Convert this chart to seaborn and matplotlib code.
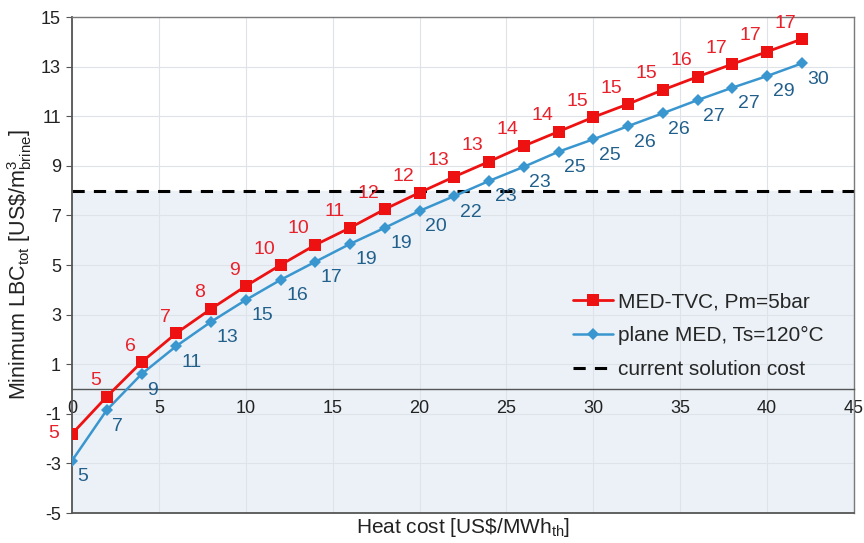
import matplotlib
matplotlib.use("Agg")
import matplotlib.pyplot as plt
import seaborn as sns
import numpy as np
import pandas as pd

# ---- data ----
heat_cost = [0, 2, 4, 6, 8, 10, 12, 14, 16, 18, 20, 22, 24, 26, 28, 30, 32, 34, 36, 38, 40, 42]
lbc_tvc = [-1.81, -0.31, 1.08, 2.25, 3.23, 4.15, 5.0, 5.81, 6.50, 7.25, 7.92, 8.56, 9.17,
           9.80, 10.38, 10.96, 11.49, 12.06, 12.59, 13.10, 13.60, 14.11]
lbc_med = [-2.89, -0.85, 0.60, 1.73, 2.71, 3.59, 4.40, 5.13, 5.85, 6.50, 7.18, 7.78, 8.39,
           8.96, 9.57, 10.07, 10.60, 11.12, 11.65, 12.15, 12.62, 13.13]
lab_tvc = [5, 5, 6, 7, 8, 9, 10, 10, 11, 12, 12, 13, 13, 14, 14, 15, 15, 15, 16, 17, 17, 17]
lab_med = [5, 7, 9, 11, 13, 15, 16, 17, 19, 19, 20, 22, 23, 23, 25, 25, 26, 26, 27, 27, 29, 30]
current_cost = 8
series_names = ["MED-TVC, Pm=5bar", "plane MED, Ts=120°C", "current solution cost"]
x_ticks = [0, 5, 10, 15, 20, 25, 30, 35, 40, 45]
y_ticks = [-5, -3, -1, 1, 3, 5, 7, 9, 11, 13, 15]

# ---- style ----
sns.set_style("white")
plt.rcParams["font.family"] = ["Liberation Sans", "DejaVu Sans"]
plt.rcParams["mathtext.fontset"] = "custom"
plt.rcParams["mathtext.rm"] = "Liberation Sans"
plt.rcParams["mathtext.it"] = "Liberation Sans:italic"
plt.rcParams["mathtext.bf"] = "Liberation Sans:bold"
plt.rcParams["axes.unicode_minus"] = False

RED = "#ee1111"
RED_TXT = "#e8212b"
BLUE = "#3a96cf"
BLUE_TXT = "#22608c"

fig = plt.figure(figsize=(8.64, 5.43), dpi=100)
ax = fig.add_axes([72 / 864, 30 / 543, 782 / 864, 496 / 543])

df = pd.DataFrame({"x": heat_cost, "tvc": lbc_tvc, "med": lbc_med})

ax.axhspan(-5, current_cost, color="#ebf1f6", zorder=0.1, lw=0)

sns.lineplot(data=df, x="x", y="tvc", ax=ax, color=RED, linewidth=2.0, marker="s",
             markersize=9, markeredgecolor=RED, markeredgewidth=0, label=series_names[0],
             zorder=4)
sns.lineplot(data=df, x="x", y="med", ax=ax, color=BLUE, linewidth=1.8, marker="D",
             markersize=6.5, markeredgecolor=BLUE, markeredgewidth=0, label=series_names[1],
             zorder=3)
ax.axhline(current_cost, color="black", linewidth=2.2, linestyle=(0, (4, 3)),
           label=series_names[2], zorder=2)

for i, (x, y, t) in enumerate(zip(heat_cost, lbc_tvc, lab_tvc)):
    if i == 0:
        off, ha = (-9, 0), "right"
    else:
        off, ha = (-4, 11.5), "right"
    ax.annotate(str(t), (x, y), xytext=off, textcoords="offset points", ha=ha,
                va="center", color=RED_TXT, fontsize=14, zorder=5)
for x, y, t in zip(heat_cost, lbc_med, lab_med):
    ax.annotate(str(t), (x, y), xytext=(4, -11.5), textcoords="offset points", ha="left",
                va="center", color=BLUE_TXT, fontsize=14, zorder=5)

ax.set_xlim(0, 45)
ax.set_ylim(-5, 15)
ax.set_xticks(x_ticks)
ax.set_yticks(y_ticks)
ax.grid(True, color="#dde3e8", linewidth=0.8, zorder=0.5)
ax.set_axisbelow(True)

ax.spines["bottom"].set_position(("data", 0))
ax.spines["bottom"].set_color("#555555")
ax.spines["bottom"].set_linewidth(1.0)
ax.spines["left"].set_color("#555555")
ax.spines["left"].set_linewidth(1.3)
for s in ["top", "right"]:
    ax.spines[s].set_color("#7a7a7a")
    ax.spines[s].set_linewidth(1.0)
ax.plot([0, 1], [0, 0], transform=ax.transAxes, color="#555555", lw=1.3,
        clip_on=False, zorder=6)

ax.tick_params(axis="x", direction="inout", length=6, width=0.8, color="#555555",
               labelsize=13, pad=5)
ax.tick_params(axis="y", direction="out", length=4, width=0.8, color="#555555",
               labelsize=13, pad=4, left=True)
for lbl in ax.get_xticklabels() + ax.get_yticklabels():
    lbl.set_color("#222222")

ax.set_xlabel(r"Heat cost [US\$/MWh$_{\mathrm{th}}$]", fontsize=15, color="#222222")
ax.xaxis.set_label_coords(0.5, -0.006)
ax.xaxis.label.set_va("top")
ax.set_ylabel(r"Minimum LBC$_{\mathrm{tot}}$ [US\$/m$^{3}_{\mathrm{brine}}$]", fontsize=15.5,
              color="#222222")
ax.yaxis.set_label_coords(-0.048, 0.5)

leg = ax.legend(loc="upper left", bbox_to_anchor=(0.63, 0.462), frameon=False, fontsize=15,
                handlelength=1.9, handletextpad=0.25, labelspacing=0.72, borderaxespad=0)

fig.savefig("out.png", dpi=100)
